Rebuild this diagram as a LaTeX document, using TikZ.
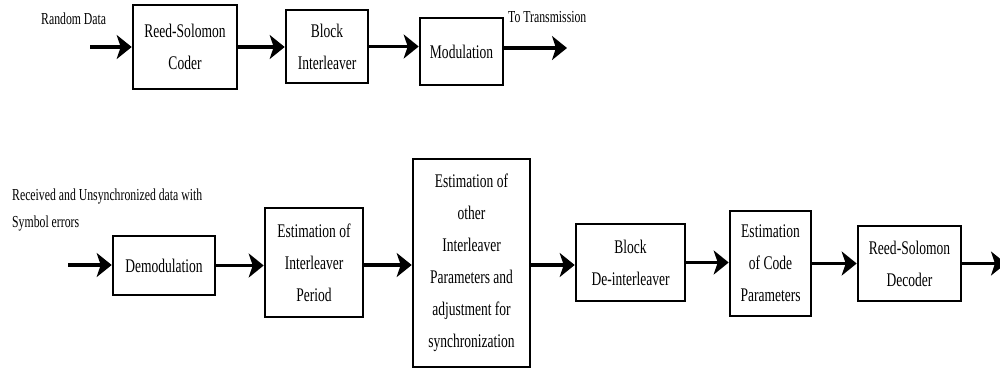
\documentclass[tikz,border=0pt]{standalone}
\usepackage{fontspec}
\setmainfont{Liberation Serif}[FakeStretch=0.7]
\usetikzlibrary{arrows.meta}
\newcommand\bigtxt{\fontsize{19.3}{32}\selectfont}
\newcommand\smtxt{\fontsize{16.8}{27}\selectfont}
\begin{document}
\begin{tikzpicture}[x=1pt,y=-1pt,
  blk/.style={draw, line width=2.6pt, inner sep=0pt, align=center, font=\bigtxt},
  arr/.style={line width=3.5pt, -{Stealth[length=15pt,width=24pt,inset=4pt]}},
  lbl/.style={inner sep=0pt, anchor=base west, font=\smtxt}]
\useasboundingbox (0,0) rectangle (1000,370);
% top row
\node[blk, minimum width=104pt, minimum height=84pt] (rsc) at (185,47) {Reed-Solomon\\Coder};
\node[blk, minimum width=82pt, minimum height=73pt] (bi) at (327,46.5) {Block\\Interleaver};
\node[blk, minimum width=83pt, minimum height=67pt] (mod) at (461.5,51.5) {Modulation};
\node[lbl] (rd) at (41,24.5) {Random Data};
\node[lbl] (tt) at (508,22.5) {To Transmission};
\coordinate (in1) at (90,47);
\coordinate (out1) at (567,48);
\draw[arr] (in1) -- (in1 -| rsc.west);
\draw[arr] (rsc.east) -- (rsc.east -| bi.west);
\draw[arr] (bi.east) -- (bi.east -| mod.west);
\draw[arr] (mod.east |- out1) -- (out1);
% bottom row
\node[blk, minimum width=102pt, minimum height=59pt] (dem) at (164,265.5) {Demodulation};
\node[blk, minimum width=98pt, minimum height=109pt] (eip) at (314,262.5) {Estimation of\\Interleaver\\Period};
\node[blk, minimum width=117pt, minimum height=208pt] (eoip) at (471.5,263) {Estimation of\\other\\Interleaver\\Parameters and\\adjustment for\\synchronization};
\node[blk, minimum width=109pt, minimum height=77pt] (bd) at (630.5,262.5) {Block\\De-interleaver};
\node[blk, minimum width=81pt, minimum height=105pt] (ecp) at (770.5,263.5) {Estimation\\of Code\\Parameters};
\node[blk, minimum width=103pt, minimum height=75pt] (rsd) at (909.5,263.5) {Reed-Solomon\\Decoder};
\node[lbl] (rx1) at (12,200.5) {Received and Unsynchronized data with};
\node[lbl] (rx2) at (12,227.5) {Symbol errors};
\coordinate (in2) at (68,265);
\coordinate (out2) at (1006,263.5);
\draw[arr] (in2) -- (in2 -| dem.west);
\draw[arr] (dem.east) -- (dem.east -| eip.west);
\draw[arr] (eip.east |- in2) -- (in2 -| eoip.west);
\draw[arr] (eoip.east |- in2) -- (in2 -| bd.west);
\draw[arr] (bd.east) -- (bd.east -| ecp.west);
\draw[arr] (ecp.east) -- (ecp.east -| rsd.west);
\draw[arr] (rsd.east) -- (rsd.east -| out2);
\end{tikzpicture}
\end{document}
